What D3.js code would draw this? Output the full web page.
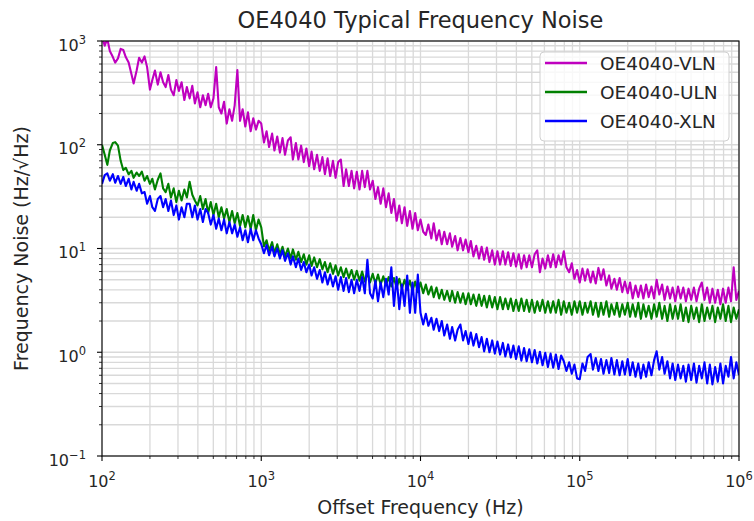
<!DOCTYPE html>
<html lang="en">
	<head>
		<meta charset="utf-8">
		<title>OE4040 Typical Frequency Noise</title>
		<script type="text/javascript" src="https://cdn.jsdelivr.net/npm/d3@7"></script>
		<style type="text/css">
			body { margin: 0; background: #fff; }
			text { font-family: "DejaVu Sans", sans-serif; fill: #262626; }
		</style>
	</head>
	<body>
		<script type="text/javascript">

			//Width and height
			var w = 754;
			var h = 521;
			var margin = {left: 102, right: 15, top: 41, bottom: 65};

			// frequency grid: 60 points per decade, 100 Hz .. 1 MHz
			var decades = [1e2, 1e3, 1e4, 1e5];
			var mantissa = [
				1, 1.04, 1.08, 1.12, 1.17, 1.21, 1.26, 1.31, 1.36, 1.41, 1.47, 1.53, 1.58, 1.65, 1.71, 1.78, 1.85, 1.92, 2.0, 2.07,
				2.15, 2.24, 2.33, 2.42, 2.51, 2.61, 2.71, 2.82, 2.93, 3.04, 3.16, 3.29, 3.41, 3.55, 3.69, 3.83, 3.98, 4.14, 4.3, 4.47,
				4.64, 4.82, 5.01, 5.21, 5.41, 5.62, 5.84, 6.07, 6.31, 6.56, 6.81, 7.08, 7.36, 7.64, 7.94, 8.25, 8.58, 8.91, 9.26, 9.62
			];
			var lastFreq = 1e6;

			// frequency noise (Hz/rtHz)
			var vln = [
				1100, 900, 1050, 800, 700, 620, 680, 840, 820, 700, 620, 480, 390, 520, 690, 620, 710, 560, 340, 420,
				520, 380, 500, 400, 360, 470, 340, 300, 420, 330, 400, 270, 360, 280, 370, 250, 320, 230, 300, 240,
				310, 230, 280, 560, 230, 200, 260, 160, 220, 170, 240, 525, 170, 220, 150, 205, 135, 180, 140, 170,
				160, 105, 135, 95, 128, 88, 120, 84, 116, 80, 110, 118, 72, 104, 72, 98, 68, 92, 62, 86,
				58, 80, 56, 76, 52, 74, 50, 70, 48, 68, 72, 40, 58, 40, 56, 38, 55, 37, 56, 39,
				56, 37, 45, 30, 39, 27, 38, 25, 34, 22, 30, 18.5, 26, 17.5, 25, 16.5, 23, 15.5, 22, 15,
				19, 14.5, 13.5, 17, 12.5, 17.5, 12, 15, 11, 14.5, 11, 14, 10.4, 13.2, 9.6, 12.6, 9.6, 12.2, 9.2, 11.8,
				8.4, 10.6, 8.0, 10.4, 7.8, 10.2, 7.4, 9.6, 7.0, 9.4, 7.0, 9.4, 7.0, 9.2, 6.8, 9.0, 6.7, 8.8, 6.4, 8.6,
				6.6, 8.6, 6.6, 8.8, 9.6, 5.9, 8.0, 6.4, 8.6, 6.6, 8.8, 6.6, 8.6, 7.0, 9.4, 6.6, 5.9, 7.2, 5.1, 6.2,
				4.7, 6.4, 4.9, 6.3, 4.7, 6.0, 4.6, 6.5, 5.0, 6.3, 4.4, 5.5, 4.1, 5.1, 4.0, 5.2, 3.8, 4.8, 3.7, 4.7,
				3.3, 4.4, 3.4, 4.4, 3.3, 4.5, 3.4, 4.3, 3.3, 5.0, 3.6, 4.5, 3.2, 4.3, 3.3, 4.2, 3.1, 4.3, 3.3, 4.2,
				3.1, 4.1, 3.2, 4.2, 3.1, 4.1, 4.7, 3.2, 4.2, 3.0, 4.1, 3.0, 4.0, 2.9, 4.1, 3.0, 4.2, 3.1, 6.6, 3.2,
				3.9
			];

			var uln = [
				100, 80, 64, 88, 104, 106, 98, 70, 57, 60, 52, 56, 48, 54, 50, 55, 45, 50, 42, 47,
				37, 46, 53, 38, 35, 42, 31, 38, 28, 36, 29, 37, 31, 44, 33, 29, 26, 32, 24, 30,
				22, 28, 21, 27, 20, 25, 19.5, 24, 18, 23, 17.5, 22, 16.5, 21, 16, 20.5, 15.5, 21, 15, 19,
				16, 10.5, 12, 9.5, 11.5, 9.0, 11, 8.8, 10.4, 8.4, 10, 8.0, 9.8, 7.8, 9.3, 7.4, 8.8, 7.0, 8.6, 6.8,
				8.2, 6.6, 7.9, 6.3, 7.4, 5.9, 7.2, 5.7, 6.9, 5.5, 6.6, 5.3, 6.4, 5.2, 6.2, 5.0, 6.1, 4.9, 6.0, 4.8,
				5.8, 4.7, 5.7, 4.6, 5.6, 4.5, 5.4, 4.4, 5.3, 4.3, 5.2, 4.2, 5.1, 4.1, 5.0, 4.0, 4.9, 3.9, 4.8, 3.8,
				4.7, 3.7, 4.5, 3.6, 4.3, 3.4, 4.2, 3.3, 4.0, 3.2, 3.9, 3.1, 3.9, 3.0, 3.8, 3.0, 3.7, 2.9, 3.7, 2.9,
				3.6, 2.8, 3.6, 2.8, 3.5, 2.7, 3.5, 2.7, 3.4, 2.6, 3.4, 2.6, 3.3, 2.6, 3.3, 2.5, 3.2, 2.5, 3.3, 2.5,
				3.2, 2.45, 3.2, 2.4, 3.1, 2.5, 3.2, 2.4, 3.1, 2.4, 3.1, 2.4, 3.2, 2.3, 3.1, 2.4, 3.0, 2.3, 3.1, 2.4,
				3.1, 2.3, 3.0, 2.4, 3.1, 2.3, 3.0, 2.2, 3.0, 2.3, 3.1, 2.2, 2.9, 2.3, 3.0, 2.2, 2.9, 2.3, 3.0, 2.2,
				2.9, 2.2, 3.0, 2.1, 2.9, 2.2, 2.8, 2.1, 2.9, 2.2, 3.0, 2.1, 2.8, 2.0, 2.9, 2.1, 2.8, 2.1, 2.9, 2.0,
				2.7, 1.95, 2.8, 2.1, 2.7, 1.95, 2.9, 2.0, 2.7, 2.1, 2.8, 1.95, 2.7, 2.1, 2.9, 2.0, 2.8, 1.95, 2.7, 2.1,
				2.6
			];

			var xln = [
				42, 51, 53, 45, 52, 43, 50, 42, 49, 40, 47, 37, 44, 36, 42, 34, 35, 27, 32, 25,
				23, 30, 32, 25, 30, 23, 29, 21, 26, 19, 25, 20, 27, 27, 20, 26, 19, 24, 18, 24,
				22, 17, 21, 15.5, 19.5, 15, 19, 14, 18, 14, 17, 13, 16, 12, 15, 11.5, 15.5, 12, 15, 12.5,
				11, 9.0, 10.8, 8.6, 10.4, 8.4, 10, 8.0, 9.6, 7.6, 9.0, 7.0, 8.4, 6.6, 8.0, 6.2, 7.4, 5.9, 7.0, 5.5,
				6.6, 5.1, 6.2, 4.7, 5.9, 4.5, 5.6, 4.3, 5.4, 4.0, 5.3, 3.9, 5.2, 3.8, 5.0, 3.7, 5.0, 3.9, 5.3, 3.7,
				7.8, 3.7, 3.3, 4.9, 3.1, 4.7, 3.4, 5.1, 3.6, 6.6, 2.8, 5.3, 2.6, 4.5, 2.8, 5.5, 2.4, 4.7, 2.4, 5.6,
				2.4, 1.85, 2.35, 1.8, 2.15, 1.65, 2.1, 1.6, 2.0, 1.45, 1.85, 1.35, 1.75, 1.3, 1.65, 1.85, 1.3, 1.6, 1.2, 1.55,
				1.16, 1.5, 1.12, 1.4, 1.02, 1.35, 1.0, 1.3, 0.97, 1.27, 0.95, 1.23, 0.91, 1.19, 0.89, 1.16, 0.86, 1.14, 0.83, 1.1,
				0.82, 1.07, 0.8, 1.05, 0.78, 1.01, 0.75, 0.99, 0.72, 0.97, 0.71, 0.95, 0.69, 0.93, 0.82, 0.66, 0.8, 0.62, 0.76, 0.56,
				0.55, 0.78, 0.66, 0.9, 0.96, 0.68, 0.88, 0.66, 0.86, 0.62, 0.84, 0.63, 0.88, 0.61, 0.84, 0.6, 0.82, 0.61, 0.86, 0.6,
				0.8, 0.58, 0.78, 0.56, 0.76, 0.58, 0.8, 0.6, 0.84, 1.02, 0.68, 0.9, 0.62, 0.82, 0.56, 0.78, 0.54, 0.76, 0.56, 0.74,
				0.52, 0.76, 0.54, 0.78, 0.51, 0.74, 0.56, 0.8, 0.5, 0.76, 0.49, 0.72, 0.52, 0.78, 0.5, 0.74, 0.58, 0.9, 0.56, 0.8,
				0.6
			];

			var seriesNames = ["OE4040-VLN", "OE4040-ULN", "OE4040-XLN"];
			var seriesColors = ["#bf00bf", "#008000", "#0000ff"];
			var seriesValues = [vln, uln, xln];

			var xMajor = [1e2, 1e3, 1e4, 1e5, 1e6];
			var xExp = ["2", "3", "4", "5", "6"];
			var yMajor = [1e-1, 1e0, 1e1, 1e2, 1e3];
			var yExp = ["\u22121", "0", "1", "2", "3"];

			// build the frequency axis from the decade / mantissa tables
			var freq = [];
			decades.forEach(function(d) {
				mantissa.forEach(function(m) { freq.push(m * d); });
			});
			freq.push(lastFreq);

			var xScale = d3.scaleLog()
				.domain([1e2, 1e6])
				.range([margin.left, w - margin.right]);

			var yScale = d3.scaleLog()
				.domain([1e-1, 1e3])
				.range([h - margin.bottom, margin.top]);

			//Create SVG element
			var svg = d3.select("body")
				.append("svg")
				.attr("width", w)
				.attr("height", h);

			svg.append("rect")
				.attr("width", w)
				.attr("height", h)
				.attr("fill", "#fff");

			var x0 = xScale.range()[0], x1 = xScale.range()[1];
			var y0 = yScale.range()[0], y1 = yScale.range()[1];

			//Grid, major and minor
			var xTicks = xScale.ticks();
			var yTicks = yScale.ticks();

			svg.append("g")
				.selectAll("line")
				.data(xTicks)
				.enter()
				.append("line")
				.attr("x1", function(d) { return xScale(d); })
				.attr("x2", function(d) { return xScale(d); })
				.attr("y1", y0)
				.attr("y2", y1)
				.attr("stroke", "#d9d9d9")
				.attr("stroke-width", 1.3);

			svg.append("g")
				.selectAll("line")
				.data(yTicks)
				.enter()
				.append("line")
				.attr("y1", function(d) { return yScale(d); })
				.attr("y2", function(d) { return yScale(d); })
				.attr("x1", x0)
				.attr("x2", x1)
				.attr("stroke", "#d9d9d9")
				.attr("stroke-width", 1.3);

			//Clip for the traces
			svg.append("clipPath")
				.attr("id", "plotclip")
				.append("rect")
				.attr("x", x0)
				.attr("y", y1)
				.attr("width", x1 - x0)
				.attr("height", y0 - y1);

			var line = d3.line()
				.x(function(d, i) { return xScale(freq[i]); })
				.y(function(d) { return yScale(d); });

			svg.append("g")
				.attr("clip-path", "url(#plotclip)")
				.selectAll("path")
				.data(seriesValues)
				.enter()
				.append("path")
				.attr("d", function(d) { return line(d); })
				.attr("fill", "none")
				.attr("stroke", function(d, i) { return seriesColors[i]; })
				.attr("stroke-width", 2.1)
				.attr("stroke-linejoin", "round");

			//Ticks
			var isMajor = function(d) {
				return Math.abs(Math.log10(d) - Math.round(Math.log10(d))) < 1e-6;
			};

			svg.append("g")
				.selectAll("line")
				.data(xTicks)
				.enter()
				.append("line")
				.attr("x1", function(d) { return xScale(d); })
				.attr("x2", function(d) { return xScale(d); })
				.attr("y1", y0)
				.attr("y2", function(d) { return y0 + (isMajor(d) ? 5 : 3); })
				.attr("stroke", "#000")
				.attr("stroke-width", function(d) { return isMajor(d) ? 1.1 : 0.8; });

			svg.append("g")
				.selectAll("line")
				.data(yTicks)
				.enter()
				.append("line")
				.attr("y1", function(d) { return yScale(d); })
				.attr("y2", function(d) { return yScale(d); })
				.attr("x1", x0)
				.attr("x2", function(d) { return x0 - (isMajor(d) ? 5 : 3); })
				.attr("stroke", "#000")
				.attr("stroke-width", function(d) { return isMajor(d) ? 1.1 : 0.8; });

			//Frame
			svg.append("rect")
				.attr("x", x0)
				.attr("y", y1)
				.attr("width", x1 - x0)
				.attr("height", y0 - y1)
				.attr("fill", "none")
				.attr("stroke", "#000")
				.attr("stroke-width", 1.1);

			//Tick labels
			var xl = svg.append("g")
				.selectAll("text")
				.data(xMajor)
				.enter()
				.append("text")
				.attr("x", function(d) { return xScale(d); })
				.attr("y", y0 + 31)
				.attr("text-anchor", "middle")
				.attr("font-size", "16px");
			xl.append("tspan").text("10");
			xl.append("tspan")
				.attr("dy", -7)
				.attr("font-size", "11.5px")
				.text(function(d, i) { return xExp[i]; });

			var yl = svg.append("g")
				.selectAll("text")
				.data(yMajor)
				.enter()
				.append("text")
				.attr("x", x0 - 16)
				.attr("y", function(d) { return yScale(d) + 9.5; })
				.attr("text-anchor", "end")
				.attr("font-size", "16px");
			yl.append("tspan").text("10");
			yl.append("tspan")
				.attr("dy", -7)
				.attr("font-size", "11.5px")
				.text(function(d, i) { return yExp[i]; });

			//Title and axis labels
			svg.append("text")
				.attr("x", (x0 + x1) / 2)
				.attr("y", 28)
				.attr("text-anchor", "middle")
				.attr("font-size", "22.5px")
				.text("OE4040 Typical Frequency Noise");

			svg.append("text")
				.attr("x", (x0 + x1) / 2)
				.attr("y", 514)
				.attr("text-anchor", "middle")
				.attr("font-size", "19px")
				.text("Offset Frequency (Hz)");

			svg.append("text")
				.attr("transform", "translate(28," + ((y0 + y1) / 2) + ") rotate(-90)")
				.attr("text-anchor", "middle")
				.attr("font-size", "19px")
				.text("Frequency Noise (Hz/\u221AHz)");

			//Legend
			var legend = svg.append("g")
				.attr("transform", "translate(540,52)");

			legend.append("rect")
				.attr("width", 189)
				.attr("height", 89)
				.attr("rx", 4)
				.attr("fill", "#fff")
				.attr("fill-opacity", 0.8)
				.attr("stroke", "#d0d0d0");

			var items = legend.selectAll("g.item")
				.data(seriesNames)
				.enter()
				.append("g")
				.attr("class", "item")
				.attr("transform", function(d, i) { return "translate(0," + (11 + i * 29) + ")"; });

			items.append("line")
				.attr("x1", 5)
				.attr("x2", 47)
				.attr("stroke", function(d, i) { return seriesColors[i]; })
				.attr("stroke-width", 2.3);

			items.append("text")
				.attr("x", 60)
				.attr("y", 7)
				.attr("font-size", "18.5px")
				.text(function(d) { return d; });

		</script>
	</body>
</html>
